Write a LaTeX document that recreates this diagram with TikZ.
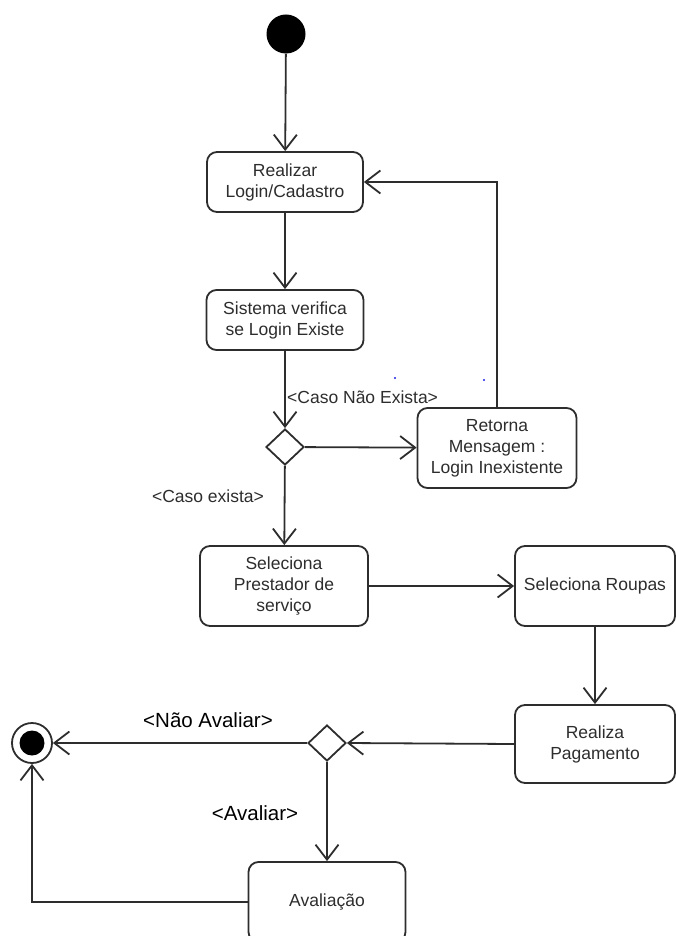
\documentclass[tikz,border=0pt]{standalone}
\usepackage{fontspec}
\setmainfont{Liberation Sans}
\usetikzlibrary{arrows.meta,shapes.geometric}

\definecolor{lineColor}{RGB}{45,45,45}
\definecolor{dotColor}{RGB}{30,30,230}

\tikzset{
  action/.style={draw=lineColor, line width=1.8pt, rounded corners=10pt, align=center,
    inner sep=0pt, text=lineColor, font=\fontsize{17.5}{21}\selectfont},
  decision/.style={draw=lineColor, line width=1.8pt, diamond, inner sep=0pt,
    minimum width=38pt, minimum height=36pt},
  flow/.style={draw=lineColor, line width=1.8pt,
    -{Straight Barb[length=15pt,width=23pt]}},
  guard/.style={text=lineColor, font=\fontsize{17.5}{21}\selectfont, inner sep=0pt},
  bigguard/.style={text=black, font=\fontsize{20.5}{24}\selectfont, inner sep=0pt}
}

\begin{document}
\begin{tikzpicture}[x=1pt,y=-1pt]
  \useasboundingbox (0,0) rectangle (676,936);
  % Start / end
  \node[circle, fill=black, minimum size=39pt, inner sep=0pt] (start) at (286,34) {};
  \node[circle, draw=lineColor, line width=1.8pt, minimum size=40pt, inner sep=0pt] (final) at (32,743) {};
  \node[circle, fill=black, minimum size=25pt, inner sep=0pt] (finalDot) at (final) {};
  % Actions
  \node[action, minimum width=156pt, minimum height=60pt] (realizar) at (285,182) {Realizar\\Login/Cadastro};
  \node[action, minimum width=157pt, minimum height=60pt] (sistema) at (285,320) {Sistema verifica\\se Login Existe};
  \node[action, minimum width=159pt, minimum height=80pt] (retorna) at (497,448) {Retorna\\Mensagem :\\Login Inexistente};
  \node[action, minimum width=168pt, minimum height=80pt] (selPrestador) at (284,586) {Seleciona\\Prestador de\\serviço};
  \node[action, minimum width=160pt, minimum height=80pt] (selRoupas) at (595,586) {Seleciona Roupas};
  \node[action, minimum width=160pt, minimum height=78pt] (pagamento) at (595,744) {Realiza\\Pagamento};
  \node[action, minimum width=157pt, minimum height=80pt] (avaliacao) at (327,902) {Avaliação};
  % Decisions
  \node[decision] (decLogin) at (285,447) {};
  \node[decision] (decAvaliar) at (327,743) {};
  % Guards
  \node[guard, anchor=west] (gNaoExiste) at (287,397) {<Caso Não Exista>};
  \node[guard] (gExiste) at (208,496) {<Caso exista>};
  \node[bigguard] (gNaoAvaliar) at (208,720) {<Não Avaliar>};
  \node[bigguard] (gAvaliar) at (255,813) {<Avaliar>};
  % Flows
  \draw[flow] (start) -- (realizar);
  \draw[flow] (realizar) -- (sistema);
  \draw[flow] (sistema) -- (decLogin);
  \draw[flow] (decLogin) -- (retorna);
  \draw[flow] (retorna.north) |- (realizar.east);
  \draw[flow] (decLogin) -- (selPrestador);
  \draw[flow] (selPrestador.east) -- (selPrestador.east -| selRoupas.west);
  \draw[flow] (selRoupas) -- (pagamento);
  \draw[flow] (pagamento.west) -- (decAvaliar.east);
  \draw[flow] (decAvaliar) -- (final);
  \draw[flow] (decAvaliar) -- (avaliacao);
  \draw[flow] (avaliacao.west) -| (final.south);
  % stray marks
  \fill[dotColor] (395,378) circle (1.2pt);
  \fill[dotColor] (484,380) circle (1.2pt);
\end{tikzpicture}
\end{document}
